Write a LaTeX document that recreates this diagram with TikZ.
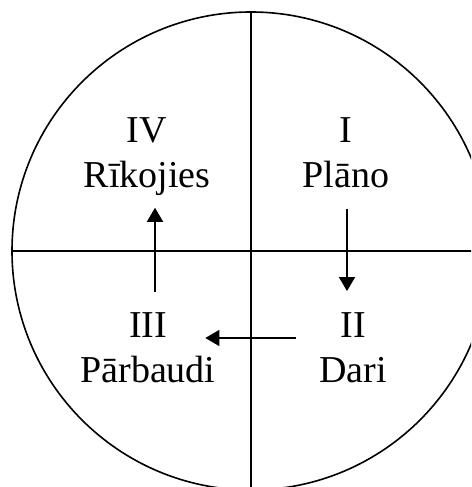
\documentclass[tikz,border=0pt]{standalone}
\usepackage{fontspec}
\setmainfont{Liberation Serif}
\usetikzlibrary{arrows.meta}
\begin{document}
\begin{tikzpicture}[x=1pt, y=1pt, line width=1.6pt, line join=round, >={Triangle[width=16pt,length=14pt]}]
		\tikzset{
		stage/.style={align=center, inner sep=0pt, font=\fontsize{38}{45}\selectfont}
		}
		\useasboundingbox (0,0) rectangle (471,487);
		\clip (0,0) rectangle (471,487);
		\draw (251,236) circle (239);
		\draw[line width=1.4pt] (251,475) -- (251,-5);
		\draw[line width=1.4pt] (12,236) -- (480,236);
		\node[stage] (plan) at (346,334) {I\\Plāno};
		\node[stage] (rik) at (147,330) {IV\\Rīkojies};
		\node[stage] (dari) at (353,139) {II\\Dari};
		\node[stage] (parb) at (148,139) {III\\Pārbaudi};
		\draw[->,shorten <=20pt,shorten >=21pt] ([xshift=1pt]plan.south) -- ([xshift=1pt]plan.south |- dari.north);
		\draw[->,shorten <=22pt,shorten >=-11pt] ([yshift=10pt]dari.west) -- ([yshift=10pt]parb.east);
		\draw[->,shorten <=20pt,shorten >=11pt] ([xshift=7pt]parb.north) -- ([xshift=7pt]parb.north |- rik.south);
	\end{tikzpicture}
\end{document}
